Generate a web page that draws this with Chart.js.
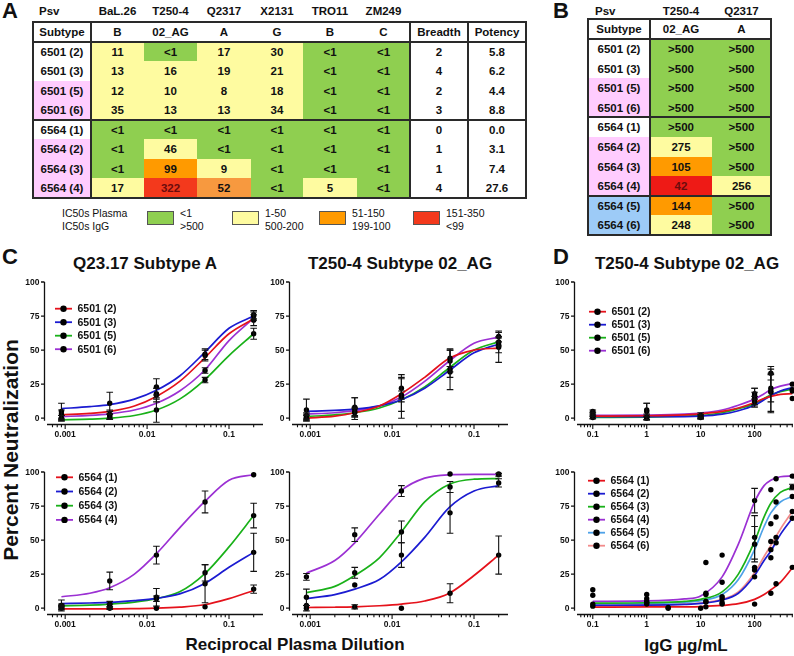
<!DOCTYPE html>
<html><head><meta charset="utf-8"><title>Neutralization</title>
<script src="https://cdn.jsdelivr.net/npm/chart.js@4.4.1/dist/chart.umd.min.js"></script>
<style>
html,body{margin:0;padding:0;background:#fff}
body{position:relative;width:794px;height:656px;overflow:hidden;font-family:"Liberation Sans",Arial,Helvetica,sans-serif;color:#111}
.t{position:absolute;white-space:nowrap;font-weight:bold}
.cell{position:absolute;display:flex;align-items:center;justify-content:center;font-weight:bold;font-size:11.5px;box-sizing:border-box;white-space:nowrap}
.ln{position:absolute;background:#2a2a2a}
canvas{position:absolute}
</style></head><body>
<script>
// ---------------- TABLE DATA ----------------
const A_psv = ['BaL.26','T250-4','Q2317','X2131','TRO11','ZM249'];
const A_subtype = ['B','02_AG','A','G','B','C'];
const A_rows = ['6501 (2)','6501 (3)','6501 (5)','6501 (6)','6564 (1)','6564 (2)','6564 (3)','6564 (4)'];
const A_vals = [
  ['11','<1','17','30','<1','<1'],
  ['13','16','19','21','<1','<1'],
  ['12','10','8','18','<1','<1'],
  ['35','13','13','34','<1','<1'],
  ['<1','<1','<1','<1','<1','<1'],
  ['<1','46','<1','<1','<1','<1'],
  ['<1','99','9','<1','<1','<1'],
  ['17','322','52','<1','5','<1']];
const A_cls = ['ygyygg','yyyygg','yyyygg','yyyygg','gggggg','gygggg','goyggg','yrOgyg'];
const A_breadth = ['2','4','2','3','0','1','1','4'];
const A_potency = ['5.8','6.2','4.4','8.8','0.0','3.1','7.4','27.6'];
const A_tint = 'wwppwppp';

const B_psv = ['T250-4','Q2317'];
const B_subtype = ['02_AG','A'];
const B_rows = ['6501 (2)','6501 (3)','6501 (5)','6501 (6)','6564 (1)','6564 (2)','6564 (3)','6564 (4)','6564 (5)','6564 (6)'];
const B_vals = [['>500','>500'],['>500','>500'],['>500','>500'],['>500','>500'],['>500','>500'],
  ['275','>500'],['105','>500'],['42','256'],['144','>500'],['248','>500']];
const B_cls = ['gg','gg','gg','gg','gg','yg','og','Ry','og','yg'];
const B_tint = 'wwppwpppbb';

const KEY_TITLES = ['IC50s Plasma','IC50s IgG'];
const KEY_CLS = ['g','y','o','r'];
const KEY_LABELS = [['<1','>500'],['1-50','500-200'],['51-150','199-100'],['151-350','<99']];

// ---------------- CHART DATA ----------------
const Y_TICKS = [0, 25, 50, 75, 100];
const C_X_TICKS = [0.001, 0.01, 0.1];
const D_X_TICKS = [0.1, 1, 10, 100];
const C_DOSE = [0.0009, 0.0035, 0.013, 0.051, 0.2];
const C_FIT_X = [0.0009, 0.002, 0.0035, 0.007, 0.013, 0.025, 0.05, 0.1, 0.2];
const D_FIT_X = [0.1, 1, 5, 10, 25, 50, 100, 150, 200, 300, 500];
const D1_DOSE = [0.1, 1, 10, 100, 200, 500];

const LABELS_6501 = ['6501 (2)','6501 (3)','6501 (5)','6501 (6)'];
const LABELS_6564 = ['6564 (1)','6564 (2)','6564 (3)','6564 (4)','6564 (5)','6564 (6)'];

// C top-left: Q23.17, plasma 6501
const q6501_fit = [
  [2.5, 3.5, 5, 9, 16, 27, 44, 62, 73],
  [7, 8.5, 10, 14, 20.5, 31, 48, 66, 75],
  [-1.2, -0.7, 0, 2, 6, 14, 28, 46, 62],
  [1.2, 2, 3.2, 6, 11, 20, 35, 57, 73.5]];
const q6501_pts = [[3, 3, 17, 46, 72],[5, 11, 23, 47, 76],[0, 1, 6, 28, 62],[0, 2, 18, 35, 75]];
const q6501_err = [[3, 3, 5, 4, 4],[6, 8, 6, 4, 3],[2, 2, 9, 2, 4],[2, 3, 4, 2, 3]];

// C top-middle: T250-4, plasma 6501
const t6501_fit = [
  [0, 1.5, 4, 9, 18, 30, 44, 50, 51.5],
  [5, 5.8, 6.6, 9, 13.5, 22, 35, 48, 54.5],
  [1.2, 2.5, 4, 7.5, 13.5, 23, 37, 50, 56],
  [3, 4, 5.5, 9, 15.5, 27, 42, 55, 59.5]];
const t6501_pts = [[0, 5, 22, 44, 52],[6, 8, 16, 36, 54],[1, 4, 16, 34, 56],[2, 7, 17, 42, 60]];
const t6501_err = [[2, 3, 8, 6, 11],[8, 7, 16, 15, 6],[2, 3, 4, 4, 3],[2, 8, 12, 8, 4]];

// D top: T250-4, IgG 6501
const g6501_fit = [
  [1.5, 1.8, 2.5, 3.2, 5, 7.5, 11.5, 14.5, 16, 17.5, 18],
  [1.2, 1.2, 1.2, 1.5, 3, 5.5, 9.5, 13.5, 16.5, 20, 22.5],
  [0.5, 0.8, 1.5, 2, 4, 7, 10.5, 14.5, 17, 19.5, 21.3],
  [2, 2.3, 3, 3.8, 6, 9.5, 14, 18, 21, 23.5, 25.5]];
const g6501_pts = [[1.5, 1, 1, 12, 19, 14.5],[3, 5, 0.5, 14, 20, 21],[0.5, 0, 2, 16, 22, 20],[5, 6, 1.5, 18, 33, 25]];
const g6501_err = [[1.5, 2, 1.5, 4, 14, 0],[1.5, 6, 1, 5, 16, 0],[1, 1.5, 2, 6, 10, 0],[1, 5, 1, 4, 5, 0]];

// C bottom-left: Q23.17, plasma 6564
const q6564_fit = [
  [-0.5, -0.5, -0.5, -0.3, 0, 0.8, 2.5, 7, 13],
  [3.4, 3.8, 4.2, 5.5, 7.2, 10.5, 18, 30, 41],
  [1.7, 2.2, 3, 4.5, 7, 12, 25, 45, 68],
  [8.4, 11, 15, 25, 40, 59, 78, 94, 98]];
const q6564_pts = [[0, 0, 0, 1, 14],[2, 3, 7, 18, 41],[1, 1.5, 8, 26, 68],[2, 20, 39, 78, 98]];
const q6564_err = [[1, 1, 0, 0, 3],[4, 2, 2, 14, 14],[1, 1.5, 6.5, 6, 9],[1, 6.5, 6.5, 8, 0]];

// C bottom-middle: T250-4, plasma 6564
const t6564_fit = [
  [0.5, 0.7, 1, 1.8, 3, 5.3, 11, 24, 39],
  [7, 10, 14, 21, 34, 52, 74, 86, 90],
  [11.4, 16, 24, 37, 56, 78, 91, 94.7, 95.2],
  [25.8, 35, 48, 69, 86.5, 95.5, 98, 98.3, 98.3]];
const t6564_pts = [[0, 1, 0, 11, 39],[2, 17, 39, 70, 92],[8, 26, 56, 89, 98],[23, 54, 86, 98.5, 98.5]];
const t6564_err = [[2, 1.5, 0, 7, 14],[0, 0, 9, 15, 3],[6, 4, 8, 4, 1],[2.5, 5, 4, 0, 0]];

// D bottom: T250-4, IgG 6564
const g6564_fit = [
  [0.8, 0.9, 1, 1.2, 2, 3.3, 6.5, 10, 13.5, 19, 29.5],
  [2, 2.2, 2.8, 3.5, 6, 11, 24, 35, 42, 54, 66],
  [3.7, 4, 5, 6.5, 12, 25, 49, 67, 77, 85, 88.5],
  [5, 5.3, 6.8, 9, 23, 47, 78, 90, 94, 96.5, 97],
  [3.2, 3.5, 4.3, 5.5, 10, 21, 43, 60, 70, 78, 82],
  [2, 2.2, 3, 3.8, 6.5, 12, 26, 38, 46, 58, 71]];
const g6564_x = [
  [1, 2.5, 10, 12.5, 25, 100, 200, 250, 500],
  [0.1, 2.5, 12.5, 25, 100, 200, 250, 500],
  [0.1, 1, 12.5, 25, 100, 200, 250, 500],
  [0.1, 1, 12.5, 25, 100, 200, 250, 500],
  [0.1, 1, 12.5, 25, 100, 200, 250, 500],
  [1, 12.5, 25, 100, 100, 200, 250, 500]];
const g6564_pts = [
  [3, 0, 0, 1, 3, 3, 11, 18, 30],
  [1.5, 0.5, 4.5, 4, 23, 37, 48, 66],
  [9.5, 7, 11, 19, 52, 62, 78, 89],
  [13.5, 10, 33.5, 39, 79, 87, 95, 97],
  [3, 5, 10, 8.5, 47, 49, 67, 82],
  [4, 5, 7, 28, 30, 43, 52, 71]];
const g6564_err = [
  [0, 0, 0, 0, 0, 0, 0, 0, 0],
  [0, 0, 0, 0, 0, 0, 0, 0],
  [0, 0, 0, 0, 16, 0, 0, 2],
  [0, 0, 0, 0, 9, 0, 0, 0],
  [0, 0, 0, 0, 13, 0, 0, 0],
  [0, 0, 0, 0, 0, 0, 0, 0]];

// ---------------- STYLES ----------------
const FONT = '"Liberation Sans", Arial, Helvetica, sans-serif';
const CELL_BG = {g:'#8fcf50', y:'#fefba0', o:'#ff9a00', O:'#f7993f', r:'#f3391c', R:'#ee1a16'};
const TINT = {w:'#ffffff', p:'#ffccfe', b:'#9dcbf7'};
const SERIES_COLORS = ['#e5121b','#1b1bd1','#19b119','#9b30d3','#4ea2e8','#f28b8b'];
const TICK_FONT = 'bold 8.5px ' + FONT;

function addDiv(cls, l, t, w, h, css, txt){
  const d = document.createElement('div'); d.className = cls;
  Object.assign(d.style, {left:l+'px', top:t+'px'});
  if (w != null) d.style.width = w+'px';
  if (h != null) d.style.height = h+'px';
  Object.assign(d.style, css || {});
  if (txt != null) d.textContent = txt;
  document.body.appendChild(d); return d;
}
function cell(l,t,w,h,bg,txt,color){ return addDiv('cell', l, t, w, h, {background:bg||'transparent', color:color||'#111'}, txt); }
function hline(l,t,w,th){ addDiv('ln', l, t, w, th); }
function vline(l,t,h,th){ addDiv('ln', l, t, th, h); }
function text(txt, l, t, fs, css){ return addDiv('t', l, t, null, null, Object.assign({fontSize:fs+'px', lineHeight:fs+'px'}, css||{}), txt); }
function textC(txt, cx, t, fs, css){ const d = text(txt, cx, t, fs, css); d.style.transform='translateX(-50%)'; return d; }

// ---------------- TABLE A ----------------
(function(){
  const C = [33, 91, 144, 197, 251, 303, 357, 410, 468, 526];
  const T0 = 22, RH = 19.5;
  const rowTop = i => Math.round(T0 + i*RH);
  const rh = i => rowTop(i+1) - rowTop(i);
  text('Psv', 39, 6.4, 11.5);
  A_psv.forEach((p,j)=> textC(p, (C[j+1]+C[j+2])/2, 6.4, 11.5));
  cell(C[0], rowTop(0), C[1]-C[0], rh(0), null, 'Subtype');
  A_subtype.forEach((s,j)=> cell(C[j+1], rowTop(0), C[j+2]-C[j+1], rh(0), null, s));
  cell(C[7], rowTop(0), C[8]-C[7], rh(0), null, 'Breadth');
  cell(C[8], rowTop(0), C[9]-C[8], rh(0), null, 'Potency');
  A_rows.forEach((r,i)=>{
    const t = rowTop(i+1), h = rh(i+1);
    cell(C[0], t, C[1]-C[0], h, TINT[A_tint[i]], r);
    A_vals[i].forEach((v,j)=>{
      const k = A_cls[i][j];
      cell(C[j+1], t, C[j+2]-C[j+1], h, CELL_BG[k], v, (k==='r'||k==='R')?'#6b0c0c':'#111');
    });
    cell(C[7], t, C[8]-C[7], h, null, A_breadth[i]);
    cell(C[8], t, C[9]-C[8], h, null, A_potency[i]);
  });
  const W = C[9]-C[0], B = rowTop(9);
  hline(C[0]-0.5, T0-0.7, W+1, 1.5);
  hline(C[0]-0.5, B-0.7, W+1, 1.5);
  hline(C[0], rowTop(1)-0.6, W, 1.2);
  hline(C[0], rowTop(5)-1, W, 2);
  vline(C[0]-0.7, T0-0.7, B-T0+1.3, 1.5);
  vline(C[9]-0.7, T0-0.7, B-T0+1.3, 1.5);
  [C[1], C[7], C[8]].forEach(x=> vline(x-0.6, T0, B-T0, 1.2));
  // key
  KEY_TITLES.forEach((k,i)=> text(k, 62, 208 + i*12.8, 10.5, {fontWeight:'normal'}));
  const boxL = [147, 232, 319, 413];
  KEY_CLS.forEach((c,i)=>{
    addDiv('ln', boxL[i], 211, 26.5, 14, {background:CELL_BG[c], border:'1px solid #555', boxSizing:'border-box'});
    KEY_LABELS[i].forEach((s,j)=> text(s, boxL[i]+33, 208 + j*12.8, 10.5, {fontWeight:'normal'}));
  });
})();

// ---------------- TABLE B ----------------
(function(){
  const C = [588, 650, 712, 771];
  const T0 = 19.3, RH = 19.6;
  const rowTop = i => Math.round(T0 + i*RH);
  const rh = i => rowTop(i+1) - rowTop(i);
  text('Psv', 595, 6.4, 11.5);
  B_psv.forEach((p,j)=> textC(p, (C[j+1]+C[j+2])/2, 6.4, 11.5));
  cell(C[0], rowTop(0), C[1]-C[0], rh(0), null, 'Subtype');
  B_subtype.forEach((s,j)=> cell(C[j+1], rowTop(0), C[j+2]-C[j+1], rh(0), null, s));
  B_rows.forEach((r,i)=>{
    const t = rowTop(i+1), h = rh(i+1);
    cell(C[0], t, C[1]-C[0], h, TINT[B_tint[i]], r);
    B_vals[i].forEach((v,j)=>{
      const k = B_cls[i][j];
      cell(C[j+1], t, C[j+2]-C[j+1], h, CELL_BG[k], v, (k==='r'||k==='R')?'#6b0c0c':'#111');
    });
  });
  const W = C[3]-C[0], B = rowTop(11);
  hline(C[0]-0.5, rowTop(0)-0.7, W+1, 1.5);
  hline(C[0]-0.5, B-0.7, W+1, 1.5);
  hline(C[0], rowTop(1)-0.6, W, 1.2);
  hline(C[0], rowTop(5)-1, W, 2);
  hline(C[0], rowTop(9)-1, W, 2);
  vline(C[0]-0.7, rowTop(0)-0.7, B-rowTop(0)+1.3, 1.5);
  vline(C[3]-0.7, rowTop(0)-0.7, B-rowTop(0)+1.3, 1.5);
  vline(C[1]-0.6, rowTop(0), B-rowTop(0), 1.2);
})();

// ---------------- LABELS ----------------
text('A', 2, -0.3, 22);
text('B', 553, -0.3, 22);
text('C', 2, 246, 22);
text('D', 553, 246, 22);
textC('Q23.17 Subtype A', 145, 255, 17);
textC('T250-4 Subtype 02_AG', 400, 255, 17);
textC('T250-4 Subtype 02_AG', 687, 255, 17);
textC('Reciprocal Plasma Dilution', 295, 635.7, 17);
textC('IgG µg/mL', 686, 636.7, 17);
(function(){ const d = text('Percent Neutralization', 10, 450, 21); d.style.transform = 'translate(-50%,-50%) rotate(-90deg)'; })();

// ---------------- CHART PLUGIN ----------------
const gp = {
  id: 'gp',
  afterDatasetsDraw(chart){
    const cfg = chart.canvas._gp; const ctx = chart.ctx;
    const xs = chart.scales.x, ys = chart.scales.y, ca = chart.chartArea;
    ctx.save();
    // error bars
    ctx.strokeStyle = '#111'; ctx.lineWidth = 1.1;
    chart.data.datasets.forEach(ds=>{
      if (!ds.err) return;
      ds.data.forEach((p,i)=>{
        const e = ds.err[i]; if (!e) return;
        const px = xs.getPixelForValue(p.x), y1 = ys.getPixelForValue(p.y+e), y2 = ys.getPixelForValue(p.y-e);
        ctx.beginPath();
        ctx.moveTo(px, y1); ctx.lineTo(px, y2);
        ctx.moveTo(px-3.3, y1); ctx.lineTo(px+3.3, y1);
        ctx.moveTo(px-3.3, y2); ctx.lineTo(px+3.3, y2);
        ctx.stroke();
      });
    });
    // axes
    ctx.strokeStyle = '#111'; ctx.lineWidth = 1.3;
    const yx = ca.left - 2.5;
    ctx.beginPath();
    ctx.moveTo(yx, ys.getPixelForValue(100)); ctx.lineTo(yx, ys.getPixelForValue(-1.8));
    Y_TICKS.forEach(v=>{ const py = ys.getPixelForValue(v); ctx.moveTo(yx, py); ctx.lineTo(yx-3.5, py); });
    const by = ca.bottom - 0.5;
    ctx.moveTo(ca.left, by); ctx.lineTo(ca.right, by);
    ctx.stroke();
    ctx.lineWidth = 1.1;
    ctx.beginPath();
    cfg.majors.forEach(v=>{ const px = xs.getPixelForValue(v); ctx.moveTo(px, by); ctx.lineTo(px, by+4.5); });
    cfg.minors.forEach(v=>{ const px = xs.getPixelForValue(v); ctx.moveTo(px, by); ctx.lineTo(px, by+2.8); });
    ctx.stroke();
    // y tick labels (positions from the y scale)
    ctx.fillStyle = '#111'; ctx.font = TICK_FONT; ctx.textAlign = 'right'; ctx.textBaseline = 'middle';
    ys.ticks.forEach(tk=>{ ctx.fillText(String(tk.value), yx - 5, ys.getPixelForValue(tk.value) + 0.5); });
    // legend
    const lg = cfg.legend;
    if (lg){
      ctx.font = 'bold 10.5px ' + FONT; ctx.textBaseline = 'middle'; ctx.textAlign = 'left';
      lg.items.forEach((it,i)=>{
        const y = ca.top + lg.y + i*lg.dy, x0 = ca.left + lg.x;
        ctx.strokeStyle = it.color; ctx.lineWidth = 1.8;
        ctx.beginPath(); ctx.moveTo(x0, y); ctx.lineTo(x0+17, y); ctx.stroke();
        ctx.fillStyle = '#000'; ctx.beginPath(); ctx.arc(x0+8.5, y, 3.2, 0, Math.PI*2); ctx.fill();
        ctx.fillStyle = '#111'; ctx.fillText(it.label, x0+22.5, y+0.5);
      });
    }
    ctx.restore();
  }
};

function minorTicks(majors, lo, hi){
  const out = [];
  const decades = [majors[0]/10].concat(majors);
  decades.forEach(d=>{ for (let k=2;k<=9;k++){ const v = +(k*d).toPrecision(6); if (v>lo && v<hi && !majors.includes(v)) out.push(v); } });
  return out;
}

function panel(area, xMin, xMax, xTicks, fitX, doseX, fits, pts, errs, xsList, labels, legend, padR){
  const padL = 42, padT = 14, padB = 24;
  const W = area.r - area.l + padL + padR, H = area.b - area.t + padT + padB;
  const cv = document.createElement('canvas');
  cv.width = W; cv.height = H;
  Object.assign(cv.style, {left:(area.l-padL)+'px', top:(area.t-padT)+'px', width:W+'px', height:H+'px'});
  document.body.appendChild(cv);
  const ds = [];
  fits.forEach((f,k)=> ds.push({label:labels[k], data: fitX.map((x,i)=>({x, y:f[i]})), borderColor:SERIES_COLORS[k], borderWidth:1.7,
    pointRadius:0, cubicInterpolationMode:'monotone', fill:false, clip:false, order:2}));
  pts.forEach((p,k)=>{ const xs = xsList ? xsList[k] : doseX;
    ds.push({data: xs.map((x,i)=>({x, y:p[i]})), err: errs[k], showLine:false, pointRadius:2.7, pointHoverRadius:2.7,
      pointBackgroundColor:'#000', pointBorderColor:'#000', pointBorderWidth:0, borderColor:'#000', clip:false, order:1}); });
  cv._gp = {majors:xTicks, minors:minorTicks(xTicks, xMin, xMax),
    legend: legend ? {x:legend.x, y:legend.y, dy:legend.dy, items: labels.map((l,k)=>({label:l, color:SERIES_COLORS[k]}))} : null};
  new Chart(cv, {
    type:'line',
    data:{datasets:ds},
    options:{
      responsive:false, animation:false, devicePixelRatio:1, events:[],
      layout:{padding:{left:0, top:padT, right:padR, bottom:0}, autoPadding:false},
      plugins:{legend:{display:false}, tooltip:{enabled:false}},
      scales:{
        x:{type:'logarithmic', min:xMin, max:xMax, grid:{display:false, drawTicks:false}, border:{display:false},
          afterBuildTicks:sc=>{ sc.ticks = xTicks.map(v=>({value:v})); },
          afterFit:sc=>{ sc.height = padB; },
          ticks:{autoSkip:false, maxRotation:0, minRotation:0, padding:4.5, color:'#111', font:{size:8.5, weight:'bold', family:FONT}, callback:v=>String(v)}},
        y:{type:'linear', min:-5, max:100, grid:{display:false, drawTicks:false}, border:{display:false},
          afterBuildTicks:sc=>{ sc.ticks = Y_TICKS.map(v=>({value:v})); },
          afterFit:sc=>{ sc.width = padL; },
          ticks:{display:false}}
      }
    },
    plugins:[gp]
  });
}

const C_RANGE = [0.0006, 0.26], D_RANGE = [0.051, 515];
panel({l:47, r:263, t:282, b:425}, C_RANGE[0], C_RANGE[1], C_X_TICKS, C_FIT_X, C_DOSE, q6501_fit, q6501_pts, q6501_err, null, LABELS_6501, {x:8, y:26.7, dy:13.5}, 6);
panel({l:292, r:508, t:282, b:425}, C_RANGE[0], C_RANGE[1], C_X_TICKS, C_FIT_X, C_DOSE, t6501_fit, t6501_pts, t6501_err, null, LABELS_6501, null, 6);
panel({l:577, r:793, t:282, b:425}, D_RANGE[0], D_RANGE[1], D_X_TICKS, D_FIT_X, D1_DOSE, g6501_fit, g6501_pts, g6501_err, null, LABELS_6501, {x:12, y:29.7, dy:13}, 1);
panel({l:47, r:263, t:472, b:615}, C_RANGE[0], C_RANGE[1], C_X_TICKS, C_FIT_X, C_DOSE, q6564_fit, q6564_pts, q6564_err, null, LABELS_6564.slice(0,4), {x:9, y:5.3, dy:14.2}, 6);
panel({l:292, r:508, t:472, b:615}, C_RANGE[0], C_RANGE[1], C_X_TICKS, C_FIT_X, C_DOSE, t6564_fit, t6564_pts, t6564_err, null, LABELS_6564.slice(0,4), null, 6);
panel({l:577, r:793, t:472, b:615}, D_RANGE[0], D_RANGE[1], D_X_TICKS, D_FIT_X, null, g6564_fit, g6564_pts, g6564_err, g6564_x, LABELS_6564, {x:11, y:8.7, dy:13}, 1);
</script></body></html>
